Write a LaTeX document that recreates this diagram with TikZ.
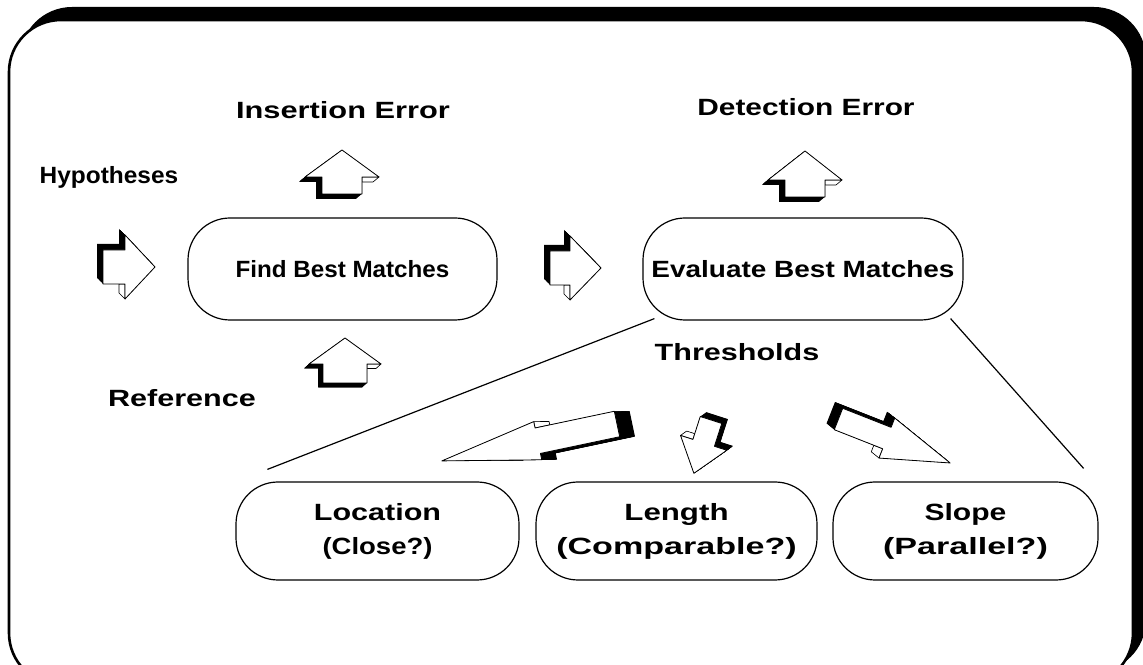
\documentclass[tikz,border=0pt]{standalone}
\usepackage{fontspec}
\setmainfont{Liberation Sans}
% block arrow with a dark extruded side: tail, angle, length, shaft length, shaft/head half width, depth back/side
\newcommand{\threedarrow}[8]{%
  \begin{scope}[shift={#1}, rotate=#2]
    \foreach \k in {0,0.05,...,1.0001}
      \fill[black, shift={(-\k*#7,\k*#8)}] (0,-#5) -- (#4,-#5) -- (#4,-#6) -- (#3,0) -- (#4,#6) -- (#4,#5) -- (0,#5) -- cycle;
    \filldraw[fill=white, line width=0.6pt, line join=round] (#4,-#5) -- (#4,-#6) -- (#4-#7,-#6+#8) -- (#4-#7,-#5) -- cycle;
    \filldraw[fill=white, line width=0.8pt, line join=round] (0,-#5) -- (#4,-#5) -- (#4,-#6) -- (#3,0) -- (#4,#6) -- (#4,#5) -- (0,#5) -- cycle;
  \end{scope}}
\newcommand{\wide}[2]{\scalebox{#1}[1]{#2}}
\begin{document}
\begin{tikzpicture}[x=1pt, y=1pt,
  font=\bfseries\fontsize{23.5}{34}\selectfont,
  procbox/.style={draw, line width=1.2pt, fill=white, rounded corners=42pt, align=center}]
\useasboundingbox (0,0) rectangle (1143,664);
\clip (0,0) rectangle (1143,664);
% frame with shadow
\fill[black, rounded corners=52pt] (20,-8) rectangle (1146,657);
\filldraw[fill=white, line width=2.6pt, rounded corners=52pt] (9,-21) rectangle (1133,644);
% boxes
\node[procbox, minimum width=309pt, minimum height=102pt] (find) at (342.5,395) {\wide{1.03}{Find Best Matches}};
\node[procbox, minimum width=320pt, minimum height=102pt] (evaluate) at (803,395) {\wide{1.19}{Evaluate Best Matches}};
\node[procbox, minimum width=283pt, minimum height=98pt] (location) at (377.5,133) {\wide{1.3}{Location}\\\wide{1.17}{(Close?)}};
\node[procbox, minimum width=281pt, minimum height=98pt] (length) at (676.5,133) {\wide{1.33}{Length}\\\wide{1.45}{(Comparable?)}};
\node[procbox, minimum width=265pt, minimum height=98pt] (slope) at (965.5,133) {\wide{1.28}{Slope}\\\wide{1.45}{(Parallel?)}};
% labels
\node (insertion) at (343,554) {\wide{1.31}{Insertion Error}};
\node (detection) at (806,557) {\wide{1.27}{Detection Error}};
\node (hypotheses) at (109,487) {\wide{1.04}{Hypotheses}};
\node (reference) at (182,266) {\wide{1.3}{Reference}};
\node (thresholds) at (737,312) {\wide{1.3}{Thresholds}};
% fan lines
\draw[line width=1.2pt] ([xshift=12pt,yshift=2pt]evaluate.south west) -- ([xshift=32pt,yshift=12pt]location.north west);
\draw[line width=1.2pt] ([xshift=-13pt,yshift=2pt]evaluate.south east) -- ([xshift=-15pt,yshift=13pt]slope.north east);
% arrows
\threedarrow{(103,397)}{0}{52}{22}{17}{32}{6}{6}
\threedarrow{(550,396)}{0}{51}{20}{17}{32}{6}{6}
\threedarrow{(342,470)}{90}{44}{17}{20}{37}{5}{6}
\threedarrow{(345,281)}{90}{45}{19}{22}{36}{4.5}{5}
\threedarrow{(805,467)}{90}{46}{17}{20}{37}{5}{6}
\threedarrow{(617,240)}{191.9}{179}{81}{13}{19.5}{15}{3}
\threedarrow{(711,244)}{252.2}{56}{24}{11.3}{24.3}{6}{4.5}
\threedarrow{(838.5,245)}{-21.5}{120}{52}{11.5}{21.5}{9.5}{3}
\end{tikzpicture}
\end{document}
